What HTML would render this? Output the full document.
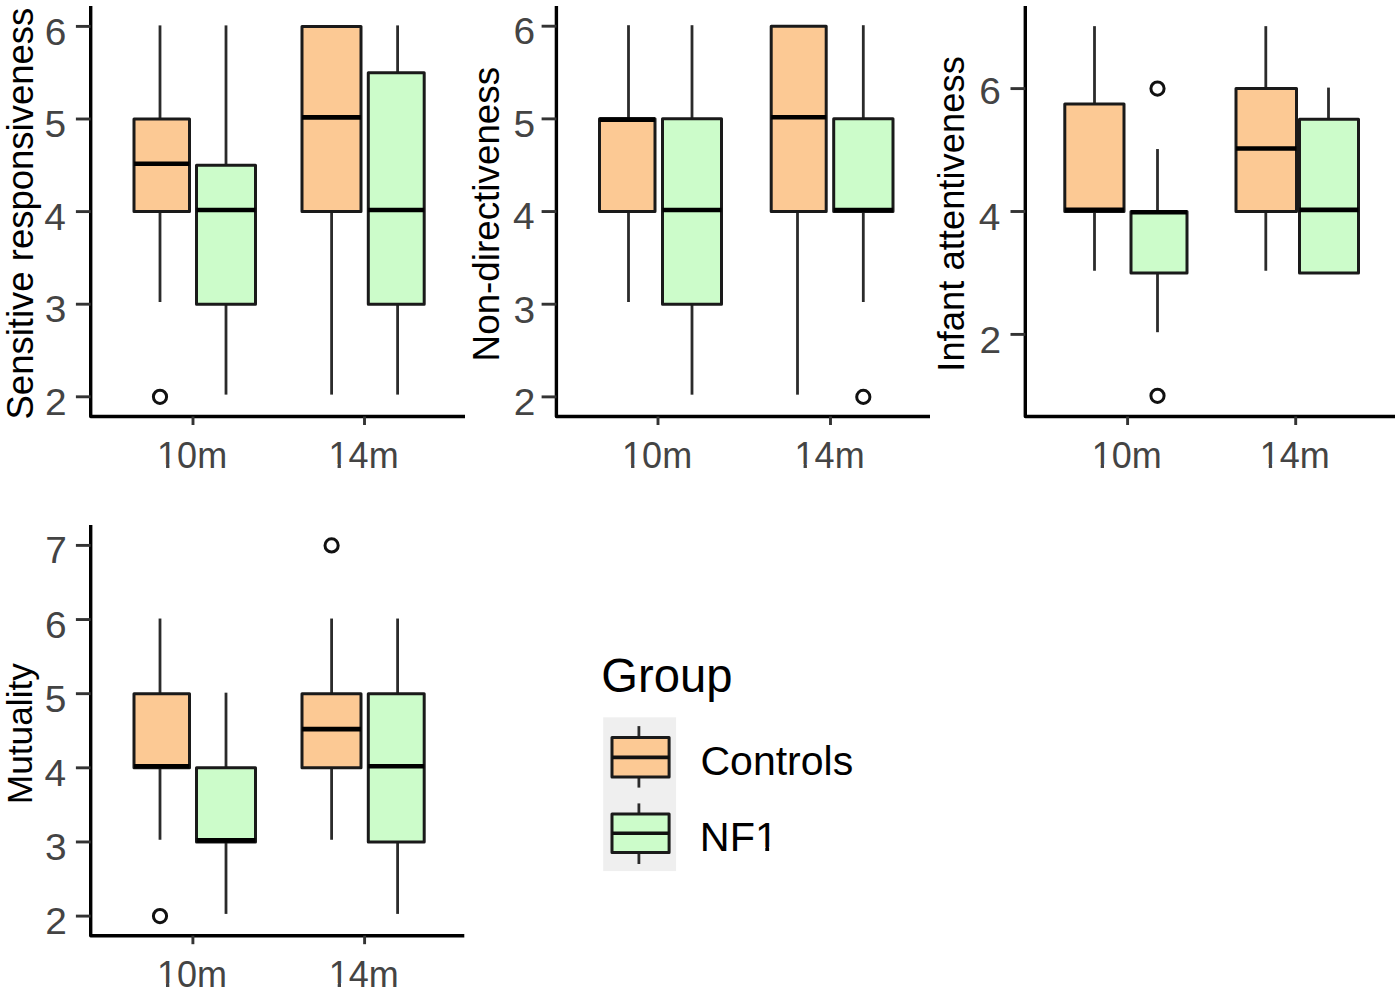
<!DOCTYPE html>
<html><head><meta charset="utf-8"><title>Boxplots</title>
<style>
html,body{margin:0;padding:0;background:#fff;}
svg{display:block;}
text{font-family:"Liberation Sans", sans-serif;}
</style></head>
<body>
<svg width="1400" height="995" viewBox="0 0 1400 995">
<rect width="1400" height="995" fill="#fff"/>
<path d="M90.70 6.00 L90.70 416.50 L465.00 416.50" fill="none" stroke="#000000" stroke-width="3.4" stroke-linejoin="round" stroke-linecap="butt"/>
<line x1="75.90" y1="26.40" x2="90.70" y2="26.40" stroke="#333333" stroke-width="2.9" stroke-linecap="butt"/>
<text transform="translate(44.77,44.69) scale(1.0800,1.0400)" font-size="36.00" fill="#444444">6</text>
<line x1="75.90" y1="119.00" x2="90.70" y2="119.00" stroke="#333333" stroke-width="2.9" stroke-linecap="butt"/>
<text transform="translate(44.58,137.10) scale(1.0800,1.0400)" font-size="36.00" fill="#444444">5</text>
<line x1="75.90" y1="211.60" x2="90.70" y2="211.60" stroke="#333333" stroke-width="2.9" stroke-linecap="butt"/>
<text transform="translate(44.19,229.52) scale(1.0800,1.0400)" font-size="36.00" fill="#444444">4</text>
<line x1="75.90" y1="304.20" x2="90.70" y2="304.20" stroke="#333333" stroke-width="2.9" stroke-linecap="butt"/>
<text transform="translate(44.77,322.49) scale(1.0800,1.0400)" font-size="36.00" fill="#444444">3</text>
<line x1="75.90" y1="396.80" x2="90.70" y2="396.80" stroke="#333333" stroke-width="2.9" stroke-linecap="butt"/>
<text transform="translate(44.97,414.90) scale(1.0800,1.0400)" font-size="36.00" fill="#444444">2</text>
<line x1="193.00" y1="416.50" x2="193.00" y2="425.00" stroke="#333333" stroke-width="2.9" stroke-linecap="butt"/>
<text transform="translate(157.10,467.99) scale(1.0000,1.0400)" font-size="36.00" fill="#444444">10m</text>
<rect x="157.91" y="464.37" width="8.17" height="4.35" fill="#fff"/>
<rect x="169.40" y="464.37" width="7.54" height="4.35" fill="#fff"/>
<line x1="364.50" y1="416.50" x2="364.50" y2="425.00" stroke="#333333" stroke-width="2.9" stroke-linecap="butt"/>
<text transform="translate(328.60,467.62) scale(1.0000,1.0400)" font-size="36.00" fill="#444444">14m</text>
<rect x="329.41" y="464.00" width="8.17" height="4.35" fill="#fff"/>
<rect x="340.90" y="464.00" width="7.54" height="4.35" fill="#fff"/>
<text transform="translate(32.60,419.49) rotate(-90)" font-size="36.50" fill="#000">Sensitive responsiveness</text>
<line x1="160.00" y1="25.40" x2="160.00" y2="119.00" stroke="#2b2b2b" stroke-width="2.8" stroke-linecap="butt"/>
<line x1="160.00" y1="211.60" x2="160.00" y2="302.00" stroke="#2b2b2b" stroke-width="2.8" stroke-linecap="butt"/>
<rect x="134.00" y="119.00" width="55.50" height="92.60" fill="#FCC994" stroke="#1a1a1a" stroke-width="3.0" stroke-linejoin="round"/>
<line x1="134.00" y1="163.70" x2="189.50" y2="163.70" stroke="#000" stroke-width="4.6" stroke-linecap="butt"/>
<circle cx="160.00" cy="396.80" r="6.6" fill="none" stroke="#111" stroke-width="3.0"/>
<line x1="226.00" y1="25.40" x2="226.00" y2="165.30" stroke="#2b2b2b" stroke-width="2.8" stroke-linecap="butt"/>
<line x1="226.00" y1="304.20" x2="226.00" y2="394.60" stroke="#2b2b2b" stroke-width="2.8" stroke-linecap="butt"/>
<rect x="196.50" y="165.30" width="59.00" height="138.90" fill="#CCFCCA" stroke="#1a1a1a" stroke-width="3.0" stroke-linejoin="round"/>
<line x1="196.50" y1="210.00" x2="255.50" y2="210.00" stroke="#000" stroke-width="4.6" stroke-linecap="butt"/>
<line x1="331.60" y1="211.60" x2="331.60" y2="394.60" stroke="#2b2b2b" stroke-width="2.8" stroke-linecap="butt"/>
<rect x="302.00" y="26.40" width="59.00" height="185.20" fill="#FCC994" stroke="#1a1a1a" stroke-width="3.0" stroke-linejoin="round"/>
<line x1="302.00" y1="117.40" x2="361.00" y2="117.40" stroke="#000" stroke-width="4.6" stroke-linecap="butt"/>
<line x1="397.60" y1="25.40" x2="397.60" y2="72.70" stroke="#2b2b2b" stroke-width="2.8" stroke-linecap="butt"/>
<line x1="397.60" y1="304.20" x2="397.60" y2="394.60" stroke="#2b2b2b" stroke-width="2.8" stroke-linecap="butt"/>
<rect x="368.30" y="72.70" width="55.90" height="231.50" fill="#CCFCCA" stroke="#1a1a1a" stroke-width="3.0" stroke-linejoin="round"/>
<line x1="368.30" y1="210.00" x2="424.20" y2="210.00" stroke="#000" stroke-width="4.6" stroke-linecap="butt"/>
<path d="M556.40 6.00 L556.40 416.50 L930.00 416.50" fill="none" stroke="#000000" stroke-width="3.4" stroke-linejoin="round" stroke-linecap="butt"/>
<line x1="541.60" y1="26.20" x2="556.40" y2="26.20" stroke="#333333" stroke-width="2.9" stroke-linecap="butt"/>
<text transform="translate(513.57,44.49) scale(1.0800,1.0400)" font-size="36.00" fill="#444444">6</text>
<line x1="541.60" y1="118.87" x2="556.40" y2="118.87" stroke="#333333" stroke-width="2.9" stroke-linecap="butt"/>
<text transform="translate(513.38,136.97) scale(1.0800,1.0400)" font-size="36.00" fill="#444444">5</text>
<line x1="541.60" y1="211.54" x2="556.40" y2="211.54" stroke="#333333" stroke-width="2.9" stroke-linecap="butt"/>
<text transform="translate(512.99,229.46) scale(1.0800,1.0400)" font-size="36.00" fill="#444444">4</text>
<line x1="541.60" y1="304.21" x2="556.40" y2="304.21" stroke="#333333" stroke-width="2.9" stroke-linecap="butt"/>
<text transform="translate(513.57,322.50) scale(1.0800,1.0400)" font-size="36.00" fill="#444444">3</text>
<line x1="541.60" y1="396.88" x2="556.40" y2="396.88" stroke="#333333" stroke-width="2.9" stroke-linecap="butt"/>
<text transform="translate(513.77,414.98) scale(1.0800,1.0400)" font-size="36.00" fill="#444444">2</text>
<line x1="658.00" y1="416.50" x2="658.00" y2="425.00" stroke="#333333" stroke-width="2.9" stroke-linecap="butt"/>
<text transform="translate(622.10,467.99) scale(1.0000,1.0400)" font-size="36.00" fill="#444444">10m</text>
<rect x="622.91" y="464.37" width="8.17" height="4.35" fill="#fff"/>
<rect x="634.40" y="464.37" width="7.54" height="4.35" fill="#fff"/>
<line x1="830.50" y1="416.50" x2="830.50" y2="425.00" stroke="#333333" stroke-width="2.9" stroke-linecap="butt"/>
<text transform="translate(794.60,467.62) scale(1.0000,1.0400)" font-size="36.00" fill="#444444">14m</text>
<rect x="795.41" y="464.00" width="8.17" height="4.35" fill="#fff"/>
<rect x="806.90" y="464.00" width="7.54" height="4.35" fill="#fff"/>
<text transform="translate(499.00,361.39) rotate(-90)" font-size="36.80" fill="#000">Non-directiveness</text>
<line x1="628.50" y1="25.20" x2="628.50" y2="118.87" stroke="#2b2b2b" stroke-width="2.8" stroke-linecap="butt"/>
<line x1="628.50" y1="211.54" x2="628.50" y2="302.01" stroke="#2b2b2b" stroke-width="2.8" stroke-linecap="butt"/>
<rect x="599.50" y="118.87" width="55.50" height="92.67" fill="#FCC994" stroke="#1a1a1a" stroke-width="3.0" stroke-linejoin="round"/>
<line x1="599.50" y1="119.67" x2="655.00" y2="119.67" stroke="#000" stroke-width="4.6" stroke-linecap="butt"/>
<line x1="692.00" y1="25.20" x2="692.00" y2="118.87" stroke="#2b2b2b" stroke-width="2.8" stroke-linecap="butt"/>
<line x1="692.00" y1="304.21" x2="692.00" y2="394.68" stroke="#2b2b2b" stroke-width="2.8" stroke-linecap="butt"/>
<rect x="662.50" y="118.87" width="59.00" height="185.34" fill="#CCFCCA" stroke="#1a1a1a" stroke-width="3.0" stroke-linejoin="round"/>
<line x1="662.50" y1="209.94" x2="721.50" y2="209.94" stroke="#000" stroke-width="4.6" stroke-linecap="butt"/>
<line x1="797.50" y1="211.54" x2="797.50" y2="394.68" stroke="#2b2b2b" stroke-width="2.8" stroke-linecap="butt"/>
<rect x="771.20" y="26.20" width="55.00" height="185.34" fill="#FCC994" stroke="#1a1a1a" stroke-width="3.0" stroke-linejoin="round"/>
<line x1="771.20" y1="117.27" x2="826.20" y2="117.27" stroke="#000" stroke-width="4.6" stroke-linecap="butt"/>
<line x1="863.30" y1="25.20" x2="863.30" y2="118.87" stroke="#2b2b2b" stroke-width="2.8" stroke-linecap="butt"/>
<line x1="863.30" y1="211.54" x2="863.30" y2="302.01" stroke="#2b2b2b" stroke-width="2.8" stroke-linecap="butt"/>
<rect x="833.70" y="118.87" width="59.30" height="92.67" fill="#CCFCCA" stroke="#1a1a1a" stroke-width="3.0" stroke-linejoin="round"/>
<line x1="833.70" y1="209.94" x2="893.00" y2="209.94" stroke="#000" stroke-width="4.6" stroke-linecap="butt"/>
<circle cx="863.30" cy="396.88" r="6.6" fill="none" stroke="#111" stroke-width="3.0"/>
<path d="M1025.30 6.00 L1025.30 416.50 L1395.00 416.50" fill="none" stroke="#000000" stroke-width="3.4" stroke-linejoin="round" stroke-linecap="butt"/>
<line x1="1010.50" y1="88.60" x2="1025.30" y2="88.60" stroke="#333333" stroke-width="2.9" stroke-linecap="butt"/>
<text transform="translate(979.37,104.19) scale(1.0800,1.0400)" font-size="36.00" fill="#444444">6</text>
<line x1="1010.50" y1="211.50" x2="1025.30" y2="211.50" stroke="#333333" stroke-width="2.9" stroke-linecap="butt"/>
<text transform="translate(978.79,229.52) scale(1.0800,1.0400)" font-size="36.00" fill="#444444">4</text>
<line x1="1010.50" y1="334.40" x2="1025.30" y2="334.40" stroke="#333333" stroke-width="2.9" stroke-linecap="butt"/>
<text transform="translate(979.57,352.60) scale(1.0800,1.0400)" font-size="36.00" fill="#444444">2</text>
<line x1="1127.60" y1="416.50" x2="1127.60" y2="425.00" stroke="#333333" stroke-width="2.9" stroke-linecap="butt"/>
<text transform="translate(1091.70,467.99) scale(1.0000,1.0400)" font-size="36.00" fill="#444444">10m</text>
<rect x="1092.51" y="464.37" width="8.17" height="4.35" fill="#fff"/>
<rect x="1104.00" y="464.37" width="7.54" height="4.35" fill="#fff"/>
<line x1="1295.70" y1="416.50" x2="1295.70" y2="425.00" stroke="#333333" stroke-width="2.9" stroke-linecap="butt"/>
<text transform="translate(1259.80,467.62) scale(1.0000,1.0400)" font-size="36.00" fill="#444444">14m</text>
<rect x="1260.61" y="464.00" width="8.17" height="4.35" fill="#fff"/>
<rect x="1272.10" y="464.00" width="7.54" height="4.35" fill="#fff"/>
<text transform="translate(963.90,371.73) rotate(-90)" font-size="36.40" fill="#000">Infant attentiveness</text>
<line x1="1094.50" y1="26.15" x2="1094.50" y2="103.96" stroke="#2b2b2b" stroke-width="2.8" stroke-linecap="butt"/>
<line x1="1094.50" y1="211.50" x2="1094.50" y2="270.75" stroke="#2b2b2b" stroke-width="2.8" stroke-linecap="butt"/>
<rect x="1064.80" y="103.96" width="59.20" height="107.54" fill="#FCC994" stroke="#1a1a1a" stroke-width="3.0" stroke-linejoin="round"/>
<line x1="1064.80" y1="209.90" x2="1124.00" y2="209.90" stroke="#000" stroke-width="4.6" stroke-linecap="butt"/>
<line x1="1157.50" y1="149.05" x2="1157.50" y2="211.50" stroke="#2b2b2b" stroke-width="2.8" stroke-linecap="butt"/>
<line x1="1157.50" y1="272.95" x2="1157.50" y2="332.20" stroke="#2b2b2b" stroke-width="2.8" stroke-linecap="butt"/>
<rect x="1131.00" y="211.50" width="56.00" height="61.45" fill="#CCFCCA" stroke="#1a1a1a" stroke-width="3.0" stroke-linejoin="round"/>
<line x1="1131.00" y1="212.30" x2="1187.00" y2="212.30" stroke="#000" stroke-width="4.6" stroke-linecap="butt"/>
<circle cx="1157.50" cy="88.60" r="6.6" fill="none" stroke="#111" stroke-width="3.0"/>
<circle cx="1157.50" cy="395.85" r="6.6" fill="none" stroke="#111" stroke-width="3.0"/>
<line x1="1265.80" y1="26.15" x2="1265.80" y2="88.60" stroke="#2b2b2b" stroke-width="2.8" stroke-linecap="butt"/>
<line x1="1265.80" y1="211.50" x2="1265.80" y2="270.75" stroke="#2b2b2b" stroke-width="2.8" stroke-linecap="butt"/>
<rect x="1236.00" y="88.60" width="60.50" height="122.90" fill="#FCC994" stroke="#1a1a1a" stroke-width="3.0" stroke-linejoin="round"/>
<line x1="1236.00" y1="148.45" x2="1296.50" y2="148.45" stroke="#000" stroke-width="4.6" stroke-linecap="butt"/>
<line x1="1328.50" y1="87.60" x2="1328.50" y2="119.32" stroke="#2b2b2b" stroke-width="2.8" stroke-linecap="butt"/>
<rect x="1299.50" y="119.32" width="59.00" height="153.63" fill="#CCFCCA" stroke="#1a1a1a" stroke-width="3.0" stroke-linejoin="round"/>
<line x1="1299.50" y1="209.90" x2="1358.50" y2="209.90" stroke="#000" stroke-width="4.6" stroke-linecap="butt"/>
<path d="M90.70 525.00 L90.70 935.70 L464.30 935.70" fill="none" stroke="#000000" stroke-width="3.4" stroke-linejoin="round" stroke-linecap="butt"/>
<line x1="75.90" y1="545.40" x2="90.70" y2="545.40" stroke="#333333" stroke-width="2.9" stroke-linecap="butt"/>
<text transform="translate(45.17,563.32) scale(1.0800,1.0400)" font-size="36.00" fill="#444444">7</text>
<line x1="75.90" y1="619.54" x2="90.70" y2="619.54" stroke="#333333" stroke-width="2.9" stroke-linecap="butt"/>
<text transform="translate(44.97,637.83) scale(1.0800,1.0400)" font-size="36.00" fill="#444444">6</text>
<line x1="75.90" y1="693.68" x2="90.70" y2="693.68" stroke="#333333" stroke-width="2.9" stroke-linecap="butt"/>
<text transform="translate(44.78,711.78) scale(1.0800,1.0400)" font-size="36.00" fill="#444444">5</text>
<line x1="75.90" y1="767.82" x2="90.70" y2="767.82" stroke="#333333" stroke-width="2.9" stroke-linecap="butt"/>
<text transform="translate(44.39,785.74) scale(1.0800,1.0400)" font-size="36.00" fill="#444444">4</text>
<line x1="75.90" y1="841.96" x2="90.70" y2="841.96" stroke="#333333" stroke-width="2.9" stroke-linecap="butt"/>
<text transform="translate(44.97,860.25) scale(1.0800,1.0400)" font-size="36.00" fill="#444444">3</text>
<line x1="75.90" y1="916.10" x2="90.70" y2="916.10" stroke="#333333" stroke-width="2.9" stroke-linecap="butt"/>
<text transform="translate(45.17,934.20) scale(1.0800,1.0400)" font-size="36.00" fill="#444444">2</text>
<line x1="192.90" y1="935.70" x2="192.90" y2="944.20" stroke="#333333" stroke-width="2.9" stroke-linecap="butt"/>
<text transform="translate(157.00,986.99) scale(1.0000,1.0400)" font-size="36.00" fill="#444444">10m</text>
<rect x="157.81" y="983.37" width="8.17" height="4.35" fill="#fff"/>
<rect x="169.30" y="983.37" width="7.54" height="4.35" fill="#fff"/>
<line x1="364.60" y1="935.70" x2="364.60" y2="944.20" stroke="#333333" stroke-width="2.9" stroke-linecap="butt"/>
<text transform="translate(328.70,986.62) scale(1.0000,1.0400)" font-size="36.00" fill="#444444">14m</text>
<rect x="329.51" y="983.00" width="8.17" height="4.35" fill="#fff"/>
<rect x="341.00" y="983.00" width="7.54" height="4.35" fill="#fff"/>
<text transform="translate(31.70,804.27) rotate(-90)" font-size="35.30" fill="#000">Mutuality</text>
<line x1="160.00" y1="618.54" x2="160.00" y2="693.68" stroke="#2b2b2b" stroke-width="2.8" stroke-linecap="butt"/>
<line x1="160.00" y1="767.82" x2="160.00" y2="839.76" stroke="#2b2b2b" stroke-width="2.8" stroke-linecap="butt"/>
<rect x="134.00" y="693.68" width="55.50" height="74.14" fill="#FCC994" stroke="#1a1a1a" stroke-width="3.0" stroke-linejoin="round"/>
<line x1="134.00" y1="766.22" x2="189.50" y2="766.22" stroke="#000" stroke-width="4.6" stroke-linecap="butt"/>
<circle cx="160.00" cy="916.10" r="6.6" fill="none" stroke="#111" stroke-width="3.0"/>
<line x1="226.00" y1="692.68" x2="226.00" y2="767.82" stroke="#2b2b2b" stroke-width="2.8" stroke-linecap="butt"/>
<line x1="226.00" y1="841.96" x2="226.00" y2="913.90" stroke="#2b2b2b" stroke-width="2.8" stroke-linecap="butt"/>
<rect x="196.50" y="767.82" width="59.00" height="74.14" fill="#CCFCCA" stroke="#1a1a1a" stroke-width="3.0" stroke-linejoin="round"/>
<line x1="196.50" y1="840.36" x2="255.50" y2="840.36" stroke="#000" stroke-width="4.6" stroke-linecap="butt"/>
<line x1="331.60" y1="618.54" x2="331.60" y2="693.68" stroke="#2b2b2b" stroke-width="2.8" stroke-linecap="butt"/>
<line x1="331.60" y1="767.82" x2="331.60" y2="839.76" stroke="#2b2b2b" stroke-width="2.8" stroke-linecap="butt"/>
<rect x="302.00" y="693.68" width="59.00" height="74.14" fill="#FCC994" stroke="#1a1a1a" stroke-width="3.0" stroke-linejoin="round"/>
<line x1="302.00" y1="729.15" x2="361.00" y2="729.15" stroke="#000" stroke-width="4.6" stroke-linecap="butt"/>
<circle cx="331.60" cy="545.40" r="6.6" fill="none" stroke="#111" stroke-width="3.0"/>
<line x1="397.60" y1="618.54" x2="397.60" y2="693.68" stroke="#2b2b2b" stroke-width="2.8" stroke-linecap="butt"/>
<line x1="397.60" y1="841.96" x2="397.60" y2="913.90" stroke="#2b2b2b" stroke-width="2.8" stroke-linecap="butt"/>
<rect x="368.30" y="693.68" width="55.90" height="148.28" fill="#CCFCCA" stroke="#1a1a1a" stroke-width="3.0" stroke-linejoin="round"/>
<line x1="368.30" y1="766.22" x2="424.20" y2="766.22" stroke="#000" stroke-width="4.6" stroke-linecap="butt"/>
<rect x="603.2" y="717.3" width="72.9" height="153.8" fill="#EFEFEF"/>
<line x1="638.90" y1="726.10" x2="638.90" y2="737.50" stroke="#2b2b2b" stroke-width="2.8" stroke-linecap="butt"/>
<line x1="638.90" y1="777.10" x2="638.90" y2="787.60" stroke="#2b2b2b" stroke-width="2.8" stroke-linecap="butt"/>
<rect x="612.0" y="737.50" width="57.10" height="39.60" fill="#FCC994" stroke="#1a1a1a" stroke-width="3.0" stroke-linejoin="round"/>
<line x1="612.00" y1="757.40" x2="669.10" y2="757.40" stroke="#111" stroke-width="3.6" stroke-linecap="butt"/>
<line x1="638.90" y1="803.40" x2="638.90" y2="814.00" stroke="#2b2b2b" stroke-width="2.8" stroke-linecap="butt"/>
<line x1="638.90" y1="852.60" x2="638.90" y2="864.00" stroke="#2b2b2b" stroke-width="2.8" stroke-linecap="butt"/>
<rect x="612.0" y="814.00" width="57.10" height="38.60" fill="#CCFCCA" stroke="#1a1a1a" stroke-width="3.0" stroke-linejoin="round"/>
<line x1="612.00" y1="833.30" x2="669.10" y2="833.30" stroke="#111" stroke-width="3.6" stroke-linecap="butt"/>
<text x="601.29" y="692.20" font-size="47.20" fill="#000">Group</text>
<text transform="translate(700.50,774.55) scale(1.0254,1.0000)" font-size="40.00" fill="#000">Controls</text>
<text transform="translate(699.84,850.75) scale(1.0341,1.0000)" font-size="40.00" fill="#000">NF1</text>
<rect x="755.91" y="846.88" width="9.39" height="4.65" fill="#fff"/>
<rect x="769.12" y="846.88" width="8.66" height="4.65" fill="#fff"/>
</svg>
</body></html>
